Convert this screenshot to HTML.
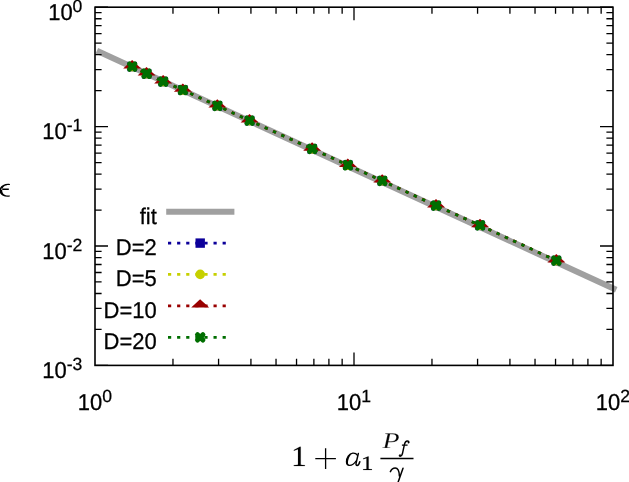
<!DOCTYPE html>
<html><head><meta charset="utf-8">
<style>
html,body{margin:0;padding:0;background:#fff;}
svg{display:block;will-change:transform;}
.s{font-family:"Liberation Sans",sans-serif;stroke:#000;stroke-width:0.25px;text-rendering:geometricPrecision;}
.r{font-family:"Liberation Serif",serif;}
</style></head><body>
<svg width="629" height="482" viewBox="0 0 629 482">
<rect width="629" height="482" fill="#fff"/>
<path d="M96.9 50.8L616.2 289.8" stroke="#a0a0a0" stroke-width="6" fill="none"/>
<path d="M132.2 66.6 L146.6 73.7 L163.2 81.6 L182.9 90 L217.4 105.8 L249.6 120.6 L312.2 148.9 L347.9 165.2 L382.3 180.8 L436.1 205.6 L480.1 225.4 L556.4 260.6" stroke="#0c009a" stroke-dasharray="3.2 5.9" stroke-dashoffset="-0.3" stroke-width="2.7" fill="none"/>
<rect x="127.5" y="61.9" width="9.4" height="9.4" fill="#0c009a"/><rect x="141.9" y="69" width="9.4" height="9.4" fill="#0c009a"/><rect x="158.5" y="76.9" width="9.4" height="9.4" fill="#0c009a"/><rect x="178.2" y="85.3" width="9.4" height="9.4" fill="#0c009a"/><rect x="212.7" y="101.1" width="9.4" height="9.4" fill="#0c009a"/><rect x="244.9" y="115.9" width="9.4" height="9.4" fill="#0c009a"/><rect x="307.5" y="144.2" width="9.4" height="9.4" fill="#0c009a"/><rect x="343.2" y="160.5" width="9.4" height="9.4" fill="#0c009a"/><rect x="377.6" y="176.1" width="9.4" height="9.4" fill="#0c009a"/><rect x="431.4" y="200.9" width="9.4" height="9.4" fill="#0c009a"/><rect x="475.4" y="220.7" width="9.4" height="9.4" fill="#0c009a"/><rect x="551.7" y="255.9" width="9.4" height="9.4" fill="#0c009a"/>
<path d="M132.2 66.6 L146.6 73.7 L163.2 81.6 L182.9 90 L217.4 105.8 L249.6 120.6 L312.2 148.9 L347.9 165.2 L382.3 180.8 L436.1 205.6 L480.1 225.4 L556.4 260.6" stroke="#c6d000" stroke-dasharray="3.2 5.9" stroke-dashoffset="-0.3" stroke-width="2.7" fill="none"/>
<circle cx="132.2" cy="66.6" r="4.8" fill="#c6d000"/><circle cx="146.6" cy="73.7" r="4.8" fill="#c6d000"/><circle cx="163.2" cy="81.6" r="4.8" fill="#c6d000"/><circle cx="182.9" cy="90" r="4.8" fill="#c6d000"/><circle cx="217.4" cy="105.8" r="4.8" fill="#c6d000"/><circle cx="249.6" cy="120.6" r="4.8" fill="#c6d000"/><circle cx="312.2" cy="148.9" r="4.8" fill="#c6d000"/><circle cx="347.9" cy="165.2" r="4.8" fill="#c6d000"/><circle cx="382.3" cy="180.8" r="4.8" fill="#c6d000"/><circle cx="436.1" cy="205.6" r="4.8" fill="#c6d000"/><circle cx="480.1" cy="225.4" r="4.8" fill="#c6d000"/><circle cx="556.4" cy="260.6" r="4.8" fill="#c6d000"/>
<path d="M132.2 66.6 L146.6 73.7 L163.2 81.6 L182.9 90 L217.4 105.8 L249.6 120.6 L312.2 148.9 L347.9 165.2 L382.3 180.8 L436.1 205.6 L480.1 225.4 L556.4 260.6" stroke="#990000" stroke-dasharray="3.2 5.9" stroke-dashoffset="-0.3" stroke-width="2.7" fill="none"/>
<path d="M132.1 60L141.2 68.4L123.2 68.4Z" fill="#990000"/><path d="M146.5 67.1L155.6 75.5L137.6 75.5Z" fill="#990000"/><path d="M163.1 75L172.2 83.4L154.2 83.4Z" fill="#990000"/><path d="M182.8 83.4L191.9 91.8L173.9 91.8Z" fill="#990000"/><path d="M217.3 99.2L226.4 107.6L208.4 107.6Z" fill="#990000"/><path d="M249.5 114L258.6 122.4L240.6 122.4Z" fill="#990000"/><path d="M312.1 142.3L321.2 150.7L303.2 150.7Z" fill="#990000"/><path d="M347.8 158.6L356.9 167L338.9 167Z" fill="#990000"/><path d="M382.2 174.2L391.3 182.6L373.3 182.6Z" fill="#990000"/><path d="M436 199L445.1 207.4L427.1 207.4Z" fill="#990000"/><path d="M480 218.8L489.1 227.2L471.1 227.2Z" fill="#990000"/><path d="M556.3 254L565.4 262.4L547.4 262.4Z" fill="#990000"/>
<path d="M132.2 66.6 L146.6 73.7 L163.2 81.6 L182.9 90 L217.4 105.8 L249.6 120.6 L312.2 148.9 L347.9 165.2 L382.3 180.8 L436.1 205.6 L480.1 225.4 L556.4 260.6" stroke="#006e00" stroke-dasharray="3.2 5.9" stroke-dashoffset="-0.3" stroke-width="2.7" fill="none"/>
<path d="M129.5 63.9L134.9 69.3M129.5 69.3L134.9 63.9" stroke="#006e00" stroke-width="5" stroke-linecap="round" fill="none"/><path d="M143.9 71L149.3 76.4M143.9 76.4L149.3 71" stroke="#006e00" stroke-width="5" stroke-linecap="round" fill="none"/><path d="M160.5 78.9L165.9 84.3M160.5 84.3L165.9 78.9" stroke="#006e00" stroke-width="5" stroke-linecap="round" fill="none"/><path d="M180.2 87.3L185.6 92.7M180.2 92.7L185.6 87.3" stroke="#006e00" stroke-width="5" stroke-linecap="round" fill="none"/><path d="M214.7 103.1L220.1 108.5M214.7 108.5L220.1 103.1" stroke="#006e00" stroke-width="5" stroke-linecap="round" fill="none"/><path d="M246.9 117.9L252.3 123.3M246.9 123.3L252.3 117.9" stroke="#006e00" stroke-width="5" stroke-linecap="round" fill="none"/><path d="M309.5 146.2L314.9 151.6M309.5 151.6L314.9 146.2" stroke="#006e00" stroke-width="5" stroke-linecap="round" fill="none"/><path d="M345.2 162.5L350.6 167.9M345.2 167.9L350.6 162.5" stroke="#006e00" stroke-width="5" stroke-linecap="round" fill="none"/><path d="M379.6 178.1L385 183.5M379.6 183.5L385 178.1" stroke="#006e00" stroke-width="5" stroke-linecap="round" fill="none"/><path d="M433.4 202.9L438.8 208.3M433.4 208.3L438.8 202.9" stroke="#006e00" stroke-width="5" stroke-linecap="round" fill="none"/><path d="M477.4 222.7L482.8 228.1M477.4 228.1L482.8 222.7" stroke="#006e00" stroke-width="5" stroke-linecap="round" fill="none"/><path d="M553.7 257.9L559.1 263.3M553.7 263.3L559.1 257.9" stroke="#006e00" stroke-width="5" stroke-linecap="round" fill="none"/>
<path d="M172.97 365.4V358.8 M172.97 7.2V13.8 M218.57 365.4V358.8 M218.57 7.2V13.8 M250.93 365.4V358.8 M250.93 7.2V13.8 M276.03 365.4V358.8 M276.03 7.2V13.8 M296.54 365.4V358.8 M296.54 7.2V13.8 M313.88 365.4V358.8 M313.88 7.2V13.8 M328.9 365.4V358.8 M328.9 7.2V13.8 M342.15 365.4V358.8 M342.15 7.2V13.8 M354 365.4V352.4 M354 7.2V20.2 M431.97 365.4V358.8 M431.97 7.2V13.8 M477.57 365.4V358.8 M477.57 7.2V13.8 M509.93 365.4V358.8 M509.93 7.2V13.8 M535.03 365.4V358.8 M535.03 7.2V13.8 M555.54 365.4V358.8 M555.54 7.2V13.8 M572.88 365.4V358.8 M572.88 7.2V13.8 M587.9 365.4V358.8 M587.9 7.2V13.8 M601.15 365.4V358.8 M601.15 7.2V13.8 M95 126.6H108 M613 126.6H600 M95 90.66H101.6 M613 90.66H606.4 M95 69.63H101.6 M613 69.63H606.4 M95 54.71H101.6 M613 54.71H606.4 M95 43.14H101.6 M613 43.14H606.4 M95 33.69H101.6 M613 33.69H606.4 M95 25.7H101.6 M613 25.7H606.4 M95 18.77H101.6 M613 18.77H606.4 M95 12.66H101.6 M613 12.66H606.4 M95 246H108 M613 246H600 M95 210.06H101.6 M613 210.06H606.4 M95 189.03H101.6 M613 189.03H606.4 M95 174.11H101.6 M613 174.11H606.4 M95 162.54H101.6 M613 162.54H606.4 M95 153.09H101.6 M613 153.09H606.4 M95 145.1H101.6 M613 145.1H606.4 M95 138.17H101.6 M613 138.17H606.4 M95 132.06H101.6 M613 132.06H606.4 M95 329.46H101.6 M613 329.46H606.4 M95 308.43H101.6 M613 308.43H606.4 M95 293.51H101.6 M613 293.51H606.4 M95 281.94H101.6 M613 281.94H606.4 M95 272.49H101.6 M613 272.49H606.4 M95 264.5H101.6 M613 264.5H606.4 M95 257.57H101.6 M613 257.57H606.4 M95 251.46H101.6 M613 251.46H606.4 M95 7.2H108 M613 7.2H600 M95 365.4H108 M613 365.4H600" stroke="#000" stroke-width="1.3" fill="none"/>
<rect x="95" y="7.2" width="518" height="358.2" fill="none" stroke="#000" stroke-width="1.6"/>
<path d="M166.2 211.7H234.4" stroke="#a0a0a0" stroke-width="6"/>
<path d="M168 243.1H226.5" stroke="#0c009a" stroke-dasharray="3.2 5.9" stroke-dashoffset="0" stroke-width="2.7" fill="none"/>
<rect x="195.5" y="238.4" width="9.4" height="9.4" fill="#0c009a"/>
<path d="M168 274.4H226.5" stroke="#c6d000" stroke-dasharray="3.2 5.9" stroke-dashoffset="0" stroke-width="2.7" fill="none"/>
<circle cx="200.2" cy="274.4" r="4.8" fill="#c6d000"/>
<path d="M168 305.8H226.5" stroke="#990000" stroke-dasharray="3.2 5.9" stroke-dashoffset="0" stroke-width="2.7" fill="none"/>
<path d="M200.1 299.2L209.2 307.6L191.2 307.6Z" fill="#990000"/>
<path d="M168 337.4H226.5" stroke="#006e00" stroke-dasharray="3.2 5.9" stroke-dashoffset="0" stroke-width="2.7" fill="none"/>
<path d="M197.5 334.7L202.9 340.1M197.5 340.1L202.9 334.7" stroke="#006e00" stroke-width="5" stroke-linecap="round" fill="none"/>
<g class="s" font-size="22" text-anchor="end">
<text transform="matrix(1 0 0 1.035 156.8 223.5)">fit</text>
<text transform="matrix(1 0 0 1.035 156.8 254.9)">D=2</text>
<text transform="matrix(1 0 0 1.035 156.8 286.2)">D=5</text>
<text transform="matrix(1 0 0 1.035 156.8 317.6)">D=10</text>
<text transform="matrix(1 0 0 1.035 156.8 349.2)">D=20</text>
</g>
<g class="s">
<text transform="matrix(1 0 0 1.045 48.14 19.8)" font-size="22">10</text><text x="72.61" y="11.7" font-size="17.6">0</text>
<text transform="matrix(1 0 0 1.045 42.28 139.2)" font-size="22">10</text><text x="66.75" y="131.1" font-size="17.6">-1</text>
<text transform="matrix(1 0 0 1.045 42.28 258.6)" font-size="22">10</text><text x="66.75" y="250.5" font-size="17.6">-2</text>
<text transform="matrix(1 0 0 1.045 42.28 378)" font-size="22">10</text><text x="66.75" y="369.9" font-size="17.6">-3</text>
<text transform="matrix(1 0 0 1.045 77.87 409.8)" font-size="22">10</text><text x="102.34" y="401.7" font-size="17.6">0</text>
<text transform="matrix(1 0 0 1.045 336.87 409.8)" font-size="22">10</text><text x="361.34" y="401.7" font-size="17.6">1</text>
<text transform="matrix(1 0 0 1.045 595.87 409.8)" font-size="22">10</text><text x="620.34" y="401.7" font-size="17.6">2</text>
</g>
<path d="M9.9 183.9C4.2 183.1 -0.6 186.2 -0.6 190.4C-0.6 194.6 3.8 197.6 9.8 196.6L9.9 195.5C5.2 196.2 2.2 193.8 2.2 190.4C2.2 187 5.2 184.7 9.9 185.1ZM1.4 188.6H8.8V189.9H1.4Z" fill="#000"/>
<path d="M300.68 464.86 304.9 465.25V466H293.8V465.25L298.03 464.86V449.33L293.86 450.71V449.95L299.88 446.8H300.68Z M368.62 469.1 372 469.37V469.9H363.1V469.37L366.49 469.1V458.18L363.15 459.15V458.62L367.98 456.4H368.62Z" fill="#000" stroke="#000" stroke-width="0.15"/>
<path d="M357.3 455.3C356.6 453.9 354.8 453.1 352.8 453.2C349 453.5 346.5 458 346.5 461.7C346.5 464.2 347.8 465.4 349.6 465.4C352.3 465.4 354.8 463 356.1 461" stroke="#000" stroke-width="1.35" stroke-linecap="round" fill="none"/><path d="M358.3 453.6L356.1 463.2C355.8 464.7 356.3 465.5 357.1 465.5C358.2 465.5 359.2 464 359.8 461.8" stroke="#000" stroke-width="1.5" stroke-linecap="round" fill="none"/>
<path d="M346.5 461.7C346.5 458 349 453.5 352.8 453.2C350.2 454.2 348.3 458.8 348 462C347.8 464 348.5 465.1 349.6 465.4C347.8 465.4 346.5 464.2 346.5 461.7Z" fill="#000"/>
<path d="M390.85 441.3Q396.17 441.3 396.17 437.36Q396.17 435.78 395.18 435.04Q394.18 434.29 392.18 434.29H390.15L388.61 441.3ZM388.39 442.29 387.31 447.22 390.31 447.52 390.17 448.1H382.3L382.44 447.52L384.66 447.22L387.53 434.17L385.22 433.88L385.36 433.3H392.73Q395.69 433.3 397.29 434.29Q398.9 435.28 398.9 437.22Q398.9 439.69 396.89 440.99Q394.88 442.29 391.15 442.29Z" fill="#000" stroke="#fff" stroke-width="0.3"/>
<path d="M409 442.6C409 441.5 408.3 440.9 407.3 440.9C405.6 440.9 404.9 442.3 404.5 444.2L402.4 453.8C402 455.4 401.3 456.2 400.3 456.2C399.6 456.2 399.3 455.8 399.3 455.3M401.9 445.1H407.6" stroke="#000" stroke-width="1.45" fill="none"/><circle cx="408.5" cy="442.6" r="0.9"/><circle cx="400" cy="455.2" r="0.9"/>
<path d="M390.4 471.6C391.6 469 393.6 468 395.2 468C397.6 468 399.2 470 399.4 476M403 468.3L398 482.5" stroke="#000" stroke-width="1.5" stroke-linecap="round" fill="none"/>
<path d="M315.3 458.6H335.9M325.6 448.3V468.9M380.4 458.5H413.5" stroke="#000" stroke-width="1.3" fill="none"/>
</svg>
</body></html>
